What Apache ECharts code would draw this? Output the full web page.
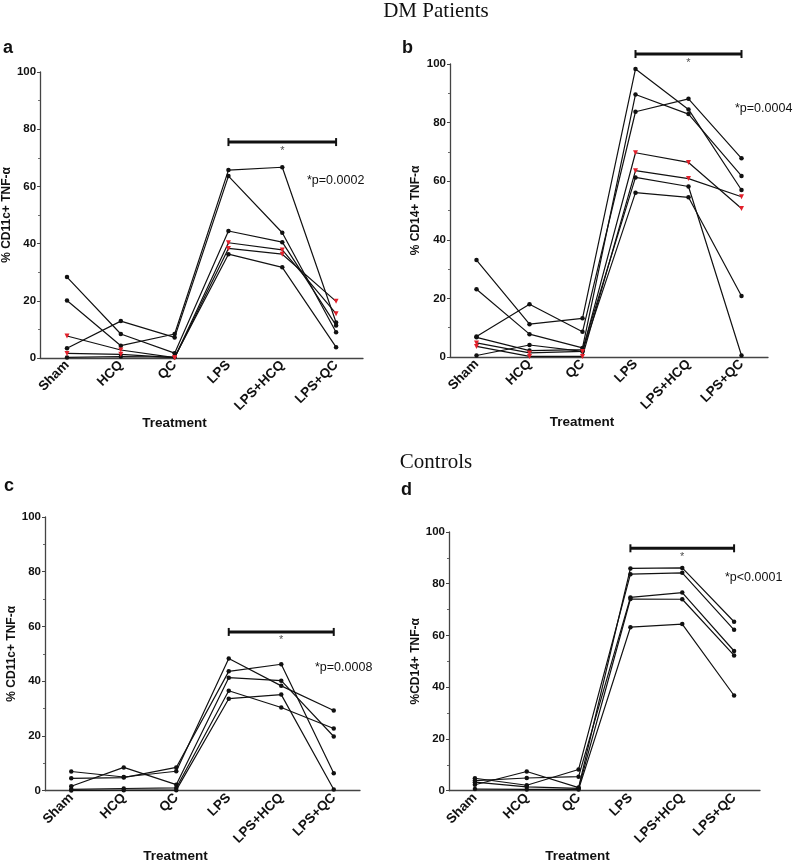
<!DOCTYPE html>
<html>
<head>
<meta charset="utf-8">
<script src="https://cdn.jsdelivr.net/npm/echarts@6/dist/echarts.min.js"></script>
<style>
html,body{margin:0;padding:0;background:#fff;}
#chart{width:800px;height:864px;}
</style>
</head>
<body>
<div id="chart"></div>
<script>
// ---------- DATA ----------
const categories = ['Sham', 'HCQ', 'QC', 'LPS', 'LPS+HCQ', 'LPS+QC'];
const yTicks = [0, 20, 40, 60, 80, 100];

// Panel a: DM Patients, % CD11c+ TNF-α
const a_black1 = [28.3, 8.4, 1.7, 44.4, 40.5, 11.4];
const a_black2 = [20.1, 4.3, 8.4, 65.7, 66.7, 12.4];
const a_black3 = [3.4, 12.9, 7.2, 63.6, 43.8, 9.0];
const a_black4 = [0.2, 0.5, 0.3, 36.3, 31.7, 3.8];
const a_red1 = [7.7, 2.8, 0.1, 40.3, 37.8, 15.5];
const a_red2 = [1.6, 1.3, 0.1, 38.3, 36.3, 19.8];

// Panel b: DM Patients, % CD14+ TNF-α
const b_black1 = [33.1, 11.2, 13.2, 98.3, 84.5, 57.0];
const b_black2 = [23.1, 7.8, 3.1, 89.6, 82.9, 61.8];
const b_black3 = [7.0, 18.0, 8.6, 83.7, 88.1, 67.8];
const b_black4 = [6.7, 2.2, 2.5, 61.3, 58.2, 0.5];
const b_black5 = [0.5, 4.1, 1.9, 56.1, 54.5, 20.8];
const b_red1 = [4.8, 1.4, 1.9, 69.7, 66.4, 50.7];
const b_red2 = [3.6, 0.2, 0.2, 63.6, 60.9, 54.7];

// Panel c: Controls, % CD11c+ TNF-α
const c_1 = [7.0, 5.0, 7.1, 48.3, 38.3, 29.3];
const c_2 = [4.5, 4.8, 8.5, 43.6, 46.2, 6.4];
const c_3 = [1.6, 8.5, 2.2, 41.3, 40.2, 19.8];
const c_4 = [0.5, 0.8, 1.0, 36.5, 30.4, 22.7];
const c_5 = [0.1, 0.2, 0.2, 33.6, 35.1, 0.4];

// Panel d: Controls, %CD14+ TNF-α
const d_1 = [2.3, 7.4, 1.2, 85.9, 86.1, 65.3];
const d_2 = [4.8, 2.1, 8.2, 83.7, 84.2, 62.2];
const d_3 = [3.9, 4.9, 5.4, 74.7, 76.6, 54.0];
const d_4 = [3.3, 1.5, 0.9, 74.1, 74.0, 52.3];
const d_5 = [0.6, 0.5, 0.5, 63.2, 64.4, 36.8];

// significance brackets (LPS .. LPS+QC) and p-values
const sigFrom = 'LPS', sigMid = 'LPS+HCQ', sigTo = 'LPS+QC';
const sigLevels = [75.5, 103.4, 58.0, 93.7];
const pTexts = ['*p=0.0002', '*p=0.0004', '*p=0.0008', '*p<0.0001'];
const yNames = ['% CD11c+ TNF-\u03b1', '% CD14+ TNF-\u03b1', '% CD11c+ TNF-\u03b1', '%CD14+ TNF-\u03b1'];
const xName = 'Treatment';
const panelLetters = ['a', 'b', 'c', 'd'];
const groupTitles = ['DM Patients', 'Controls'];

// ---------- CHART ----------
const BLACK = '#111';
const RED = '#e3202b';
const SANS = '"Liberation Sans", Arial, sans-serif';
const SERIF = '"Liberation Serif", "Times New Roman", serif';

const grids = [
  {left: 40, right: 437, top: 72, bottom: 506},
  {left: 450, right: 32, top: 64, bottom: 507},
  {left: 45, right: 440, top: 517, bottom: 56},
  {left: 449, right: 40, top: 532, bottom: 60}
];
const yNameGaps = [17, 28, 25, 27];
const xNameGaps = [38, 45, 38, 41];

const xAxes = grids.map((g, i) => ({
  type: 'category', gridIndex: i, data: categories, boundaryGap: true,
  axisLine: {lineStyle: {color: '#444', width: 1.3}},
  axisTick: {alignWithLabel: true, length: 3, lineStyle: {color: '#444'}},
  axisLabel: {rotate: 45, margin: 5, color: '#111', fontFamily: SANS, fontWeight: 'bold', fontSize: 13.5, interval: 0},
  name: xName, nameLocation: 'middle', nameGap: xNameGaps[i],
  nameTextStyle: {color: '#111', fontFamily: SANS, fontWeight: 'bold', fontSize: 13.5, padding: [0, 54, 0, 0]}
}));
const yAxes = grids.map((g, i) => ({
  type: 'value', gridIndex: i, min: yTicks[0], max: yTicks[yTicks.length - 1], interval: 20,
  axisLine: {show: true, lineStyle: {color: '#444', width: 1.3}},
  axisTick: {show: true, length: 3, lineStyle: {color: '#444'}},
  minorTick: {show: true, splitNumber: 2, length: 2, lineStyle: {color: '#666'}},
  splitLine: {show: false},
  axisLabel: {margin: 4, color: '#111', fontFamily: SANS, fontWeight: 'bold', fontSize: 11.5},
  name: yNames[i], nameLocation: 'middle', nameGap: yNameGaps[i], nameRotate: 90,
  nameTextStyle: {color: '#111', fontFamily: SANS, fontWeight: 'bold', fontSize: 12}
}));

function lineSeries(data, idx, red) {
  return {
    type: 'line', xAxisIndex: idx, yAxisIndex: idx, data: data,
    symbol: red ? 'triangle' : 'circle', symbolRotate: red ? 180 : 0,
    symbolSize: red ? 5 : 4.5,
    itemStyle: {color: red ? RED : BLACK},
    lineStyle: {color: BLACK, width: 1.2},
    emphasis: {disabled: true}, animation: false, z: red ? 3 : 2
  };
}
function sigSeries(idx) {
  const y = sigLevels[idx];
  return {
    type: 'line', xAxisIndex: idx, yAxisIndex: idx, clip: false,
    data: [[sigFrom, y], [sigTo, y]],
    symbol: 'rect', symbolSize: [2, 8], itemStyle: {color: BLACK},
    lineStyle: {color: BLACK, width: 3}, emphasis: {disabled: true}, animation: false
  };
}
function starSeries(idx) {
  const y = sigLevels[idx];
  return {
    type: 'scatter', xAxisIndex: idx, yAxisIndex: idx, clip: false,
    data: [[sigMid, y]], symbolSize: 0, silent: true,
    label: {show: true, formatter: '*', position: 'bottom', distance: 3, color: '#222', fontSize: 11, fontFamily: SANS},
    animation: false
  };
}

const series = [];
[a_black1, a_black2, a_black3, a_black4].forEach(d => series.push(lineSeries(d, 0, false)));
[a_red1, a_red2].forEach(d => series.push(lineSeries(d, 0, true)));
[b_black1, b_black2, b_black3, b_black4, b_black5].forEach(d => series.push(lineSeries(d, 1, false)));
[b_red1, b_red2].forEach(d => series.push(lineSeries(d, 1, true)));
[c_1, c_2, c_3, c_4, c_5].forEach(d => series.push(lineSeries(d, 2, false)));
[d_1, d_2, d_3, d_4, d_5].forEach(d => series.push(lineSeries(d, 3, false)));
for (let i = 0; i < 4; i++) { series.push(sigSeries(i)); series.push(starSeries(i)); }

const pPos = [[307, 181], [735, 109], [315, 668], [725, 578]];
const letterPos = [[3, 49], [402, 49], [4, 487], [401, 491]];
const graphic = [];
pTexts.forEach((t, i) => graphic.push({type: 'text', left: pPos[i][0], top: pPos[i][1] - 7,
  style: {text: t, fill: '#111', font: '12.5px ' + SANS}}));
panelLetters.forEach((t, i) => graphic.push({type: 'text', left: letterPos[i][0], top: letterPos[i][1] - 10,
  style: {text: t, fill: '#111', font: 'bold 18px ' + SANS}}));
graphic.push({type: 'text', x: 436, y: 1,
  style: {text: groupTitles[0], fill: '#111', font: '21px ' + SERIF, textAlign: 'center'}});
graphic.push({type: 'text', x: 436, y: 452,
  style: {text: groupTitles[1], fill: '#111', font: '21px ' + SERIF, textAlign: 'center'}});

const chart = echarts.init(document.getElementById('chart'), null, {renderer: 'canvas'});
chart.setOption({
  backgroundColor: '#fff',
  animation: false,
  grid: grids,
  xAxis: xAxes,
  yAxis: yAxes,
  series: series,
  graphic: graphic
});
</script>
</body>
</html>
